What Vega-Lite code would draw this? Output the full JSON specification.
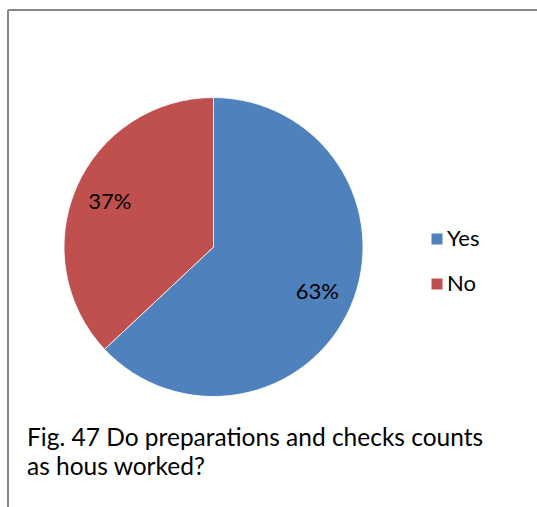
{
  "$schema": "https://vega.github.io/schema/vega-lite/v6.json",
  "autosize": "none",
  "width": 531,
  "height": 499,
  "padding": {"left": 8, "top": 10, "right": -2, "bottom": -2},
  "background": "white",
  "view": {"stroke": "#878787", "strokeWidth": 2, "strokeDash": [531, 1030, 499, 0], "strokeCap": "butt"},
  "config": {
    "font": "Lato"
  },
  "title": {
    "text": ["Fig. 47 Do preparations and checks counts", "as hous worked?"],
    "orient": "bottom",
    "anchor": "start",
    "frame": "group",
    "offset": -82,
    "dx": 19,
    "fontSize": 24.5,
    "font": "Lato",
    "fontWeight": "normal",
    "lineHeight": 29,
    "color": "#000000"
  },
  "data": {
    "values": [
      {"answer": "Yes", "share": 0.63},
      {"answer": "No", "share": 0.37}
    ]
  },
  "encoding": {
    "theta": {"field": "share", "type": "quantitative", "stack": true},
    "order": {"field": "share", "type": "quantitative", "sort": "descending"}
  },
  "layer": [
    {
      "mark": {"type": "arc", "outerRadius": 149.5, "xOffset": -60, "yOffset": -12.5, "stroke": "#ffffff", "strokeWidth": 0.8},
      "encoding": {
        "color": {
          "field": "answer",
          "type": "nominal",
          "scale": {"domain": ["Yes", "No"], "range": ["#4F81BD", "#C0504D"]},
          "legend": {
            "title": null,
            "orient": "none",
            "legendX": 418,
            "legendY": 218,
            "padding": 0,
            "symbolType": "square",
            "symbolSize": 121,
            "symbolStrokeWidth": 0,
            "labelFontSize": 22,
            "labelFont": "Lato",
            "labelColor": "#000000",
            "labelOffset": -1,
            "rowPadding": 23
          }
        }
      }
    },
    {
      "mark": {"type": "text", "radius": 113, "xOffset": -60, "yOffset": -12.5, "fontSize": 22, "font": "Lato", "color": "#000000"},
      "encoding": {
        "text": {"field": "share", "type": "quantitative", "format": ".0%"}
      }
    }
  ]
}
